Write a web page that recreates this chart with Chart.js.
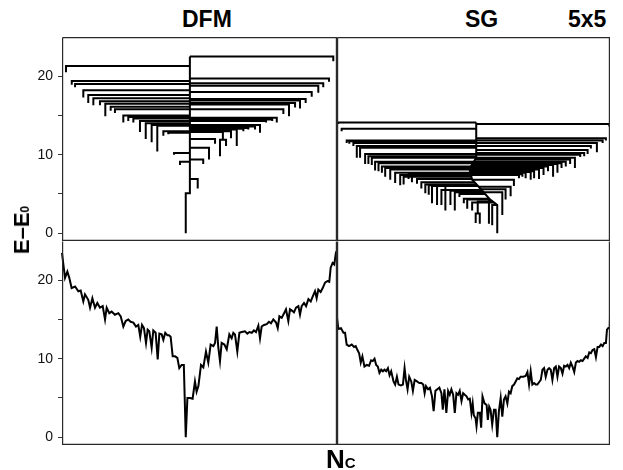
<!DOCTYPE html>
<html><head><meta charset="utf-8">
<script src="https://cdn.jsdelivr.net/npm/chart.js@4.4.1/dist/chart.umd.min.js"></script>
<style>
html,body{margin:0;padding:0;background:#fff;width:623px;height:470px;overflow:hidden;font-family:'Liberation Sans',Arial,sans-serif}
canvas{position:absolute}
.t{position:absolute;font-weight:bold;line-height:1;white-space:nowrap;color:#000}
</style></head><body>
<canvas id="tl" width="337" height="204" style="left:0;top:37px"></canvas>
<canvas id="tr" width="273" height="204" style="left:337px;top:37px"></canvas>
<canvas id="bl" width="337" height="204" style="left:0;top:241px"></canvas>
<canvas id="br" width="273" height="204" style="left:337px;top:241px"></canvas>
<div class="t" style="left:182px;top:8px;font-size:23px">DFM</div>
<div class="t" style="left:465px;top:8px;font-size:23px">SG</div>
<div class="t" style="left:568px;top:8px;font-size:23px">5x5</div>
<div class="t" style="left:22px;top:230px;font-size:22px;transform:translate(-50%,-50%) rotate(-90deg)">E–E<span style="font-size:12px">0</span></div>
<div class="t" style="left:326px;top:446px;font-size:26px">N<span style="font-size:15px">C</span></div>
<script>
// ---------- axis ----------
const yRange = [-1, 25];
const yTicks = [0, 5, 10, 15, 20];
const yLabelled = [0, 10, 20];
const ncRange = [0, 200];

// ---------- DFM: energy of minima vs N_c ----------
const dfmNc = [0,1,2.2,3.9,5.3,7,9.5,11.9,13.6,15.5,16.7,19.1,20.4,22.1,24,25.7,27.6,29.6,31.3,32.5,34.4,36.1,38.5,41,42.7,44.6,46.3,48.2,49.9,51.9,53.8,55.5,56.9,58.2,59.6,61.1,62.3,63.5,65.2,66.4,68.1,69.6,70.8,72.5,73.7,75.1,76.6,77.8,79,80.5,82.2,83.9,85.3,87,88.6,90,91.2,93.1,95,96.7,97.9,99.2,101.1,102.8,104.7,106.4,108.1,110.1,111.3,112.5,113.7,114.9,116.1,118.1,119.8,121.7,123.4,124.6,125.8,127.5,129,130.7,133.1,134.8,136.3,138,139.6,141.1,142.8,144,145.2,146.9,148.9,150.5,152,153.7,155.7,156.9,158.1,159.8,161.5,162.9,164.6,165.8,167.5,168.7,170.2,171.9,173.1,174.3,176,177.5,179.2,180.9,182.3,184,185.2,186.4,188.1,189.6,191.3,193,194.4,195.4,196.8,198,199.2,200];
const dfmE = [23.5,22,20.3,21.1,20.3,19,19.2,18.6,18.7,17.3,18.2,17.5,16.5,17.7,16.5,17.1,16.5,16.7,15,16.5,15.8,16,15.6,15.8,15.4,14.1,14.8,15,14.7,14.6,14.1,14.3,12.8,14.3,13.9,12,13.7,13.5,11.4,13.6,13.3,9.9,13.2,13.1,12.4,13.3,13,13,12.8,10.3,10.3,10.1,8.8,9.2,9.2,0,5,5,4.9,7.1,5.8,6.5,9.2,8.9,10.9,9.5,11.8,11.6,12,14.1,11.4,9.7,12,11.8,11.2,13.1,12.6,13.3,13.1,10.9,13.3,13.4,13.5,13.2,13.4,13.3,13.6,13.4,14.2,12.6,14.1,14.3,14.4,14.7,14.5,15,14.6,13.9,15.4,15.2,15.8,16.3,14.8,16.3,16.1,15.9,16.5,16.7,15.6,16.7,17.1,16.7,17.6,17.3,17.9,18.6,17.7,18.8,18.5,19,19.7,19.9,19.8,21.6,22.2,22,23.5,23.8];

// ---------- SG: energy of minima vs N_c ----------
const sgNc = [0,1,2.9,4.7,5.9,7.1,8.8,10.8,12.5,13.7,15,16.2,17.4,18.6,20.1,21.8,23.5,25,26.2,27.5,28.7,29.9,31.1,32.4,33.6,34.8,36,37.3,38.5,39.7,41.4,42.6,43.9,45.1,46.8,48.3,49.5,50.5,51.7,52.9,54.4,55.6,56.9,58.6,60.3,61.8,63.2,64.2,65.2,66.7,68.1,69.6,70.8,72.1,73.5,75,76.5,77.5,78.7,80.1,81.4,82.6,83.8,85.1,86.3,87.5,88.7,89.9,91.2,92.4,93.6,94.9,96.1,97.3,98.5,99.4,100.2,101.5,102.2,103.2,104.7,105.6,106.6,108.1,109.6,110.5,111.5,112.5,113.7,115,116.2,117.4,118.6,119.9,121.1,122.3,123.5,124.8,126,127.2,128.4,129.7,130.9,132.1,133.3,134.5,136.5,138.2,139.5,140.7,141.9,143.1,144.4,145.6,146.8,148,149.3,150.5,151.7,152.9,154.2,155.4,156.6,157.8,159.1,160.3,161.5,162.7,164,165.2,166.4,167.6,168.9,170.1,171.3,172.5,173.8,175,176.2,177.4,178.7,179.9,181.1,182.3,183.6,184.8,186,187.2,188.5,189.7,190.9,192.1,193.4,194.6,195.8,197,197.8,198.8,199.8,200];
const sgE = [15.2,13.8,13.9,13.3,13.3,11.8,11.6,11.8,11.5,11.6,11.1,10.7,9.5,10.3,9,9.2,9.1,9.8,9.7,10,9.2,9,8.2,8.6,8.4,8.6,8.4,8.8,7.9,8.4,7.1,6.7,7.7,6.7,6.6,6.7,8.8,7.3,6.1,7.7,7.1,5.9,7.3,7.1,6.9,6.9,6.7,5.6,6.5,6.1,6.3,5.2,3.3,5.9,6.1,6.3,5.6,3.5,6.1,3.1,5.9,5.4,6.1,5.4,3.1,5.6,5.4,5.9,4.6,5.6,5.4,5.2,4.8,4.9,3.1,4.3,2.8,2.4,1.4,3.1,3.1,1.2,5.2,4.3,4.1,2.2,3.9,3.5,1.6,3.5,3.5,0,3.3,5,2.6,4.8,5.2,4.3,5.8,5.6,6.5,6.7,7.1,7.5,7.4,7.7,7.7,7.8,8.3,6.7,8.4,6.7,6.9,6.7,6.7,7,7.3,8.6,8.8,7.7,8.6,8.8,8.6,7.3,8.8,9,7.7,9,8.8,8.1,9.1,9,9.2,8.8,9.5,9,8.3,9.5,9.7,9.6,9.8,9.7,10,10.3,10.1,10.8,10.7,11.1,11.2,10.2,11.5,11.5,11.8,11.6,12,12,13.7,13.9,13.9,15.2];

// ---------- DFM disconnectivity tree ----------
const dfmTrunkX = [90, 90, 93, 93];
const dfmTrunkE = [0, 5.1, 5.1, 22.5];
const dfmLeafX = [2.9,7.1,9.5,15.5,19.1,22.8,27.6,31.5,35.4,38.5,44.6,48.2,51.9,56.7,60.9,65.2,69.3,73.7,77.3,81.5,85.8,
  197.3,194.2,190,186.4,181.6,177.2,173.1,169.5,165.1,161,156.2,152.9,148.4,144,140.4,135.5,131.9,127.1,122.9,117,114.9,119.3,111.3,106.9,102.7,98.7];
const dfmLeafMin = [20.5,18.9,18.6,17.3,16.6,16.3,16.3,14.9,15.6,15.3,14.1,14.3,14.1,12.9,12,11.6,10.4,12.4,12.6,10,8.7,
  21.9,19.3,18.6,17.9,17.4,16.6,15.9,16,14.9,15.2,14.1,14.3,14.1,12.8,13.2,13.2,13,11.1,12.1,11.9,9.8,11.1,11.4,9.4,8.8,5.7];
const dfmLeafMerge = [21.3,19.4,19,18.2,17.6,17.2,16.8,16.5,16.1,15.8,15,14.8,14.6,14.3,14,13.8,13.7,13,12.8,10.2,9.1,
  22.5,19.7,19.1,18.8,18,17.1,16.9,16.6,16.4,15.8,14.7,14.5,14.3,13.8,13.6,13.4,13.3,13.2,13,12.9,11.9,11.9,12,10.9,9.4,6.9];
const dfmLeafJoin = [null,null,null,null,null,null,null,null,null,null,null,null,null,null,null,null,null,null,null,null,null,
  null,null,null,null,null,null,null,null,null,null,null,null,null,null,null,null,null,null,null,null,117,117,null,null,null,null];

// ---------- SG disconnectivity tree ----------
const sgTrunkX = [117.4, 117.4, 112, 106, 99, 97, 102, 102];
const sgTrunkE = [0, 3.6, 4.3, 5.5, 6.8, 8.2, 9.6, 14.1];
const sgLeafX = [0.9,3.4,7.1,9,12,14.5,16.9,20.6,23,25.5,27.9,30.4,32.9,35.3,39,42.6,46.3,48.8,52.4,54.9,58.6,61.8,64.7,67.2,69.6,73.3,76.5,79.4,83.1,86.3,89.7,92.9,95.4,99,
  103.1,101.6,104.6,
  199.5,197,194.6,190.4,186,183.6,181.1,178.2,174.3,170.8,167.6,164.5,161.5,158.3,154.6,151.3,148,144.4,141.9,138.2,135.8,133.3,129.6,127.2,123.5,121.1,113.7,111.3];
const sgLeafMin = [13.9,13,11.5,11.4,11.1,9.6,9.6,8.8,8.8,8.7,8,7.9,7.7,7.2,6.8,6.4,6.1,6.2,6.9,6.5,6.3,5.7,5.1,4.9,3.8,3.6,3.6,2.9,3.6,2.9,4.6,3.8,3.1,2.9,
  2.5,1.3,1.2,
  13.6,11.8,11.5,10.3,10.8,10.1,9.8,9.7,8.3,8.8,8.5,8.3,7.7,7.2,7.9,7.4,6.9,7,6.8,7,7.2,7,6,4.7,4.3,2.3,1,1.2];
const sgLeafMerge = [14.1,13.3,11.8,11.7,11.5,11.1,10.9,10.1,9.8,9.6,9.1,8.9,8.5,8.3,8.1,7.7,7.4,7.2,7.6,7.2,6.9,6.5,6.2,6.1,6,6,5.5,6,5.4,5.2,5,4.4,4.3,3.9,
  4,2.5,2.5,
  13.9,12.1,11.8,11.5,11.1,10.6,10.2,10,9.6,9.4,9.1,8.9,8.8,8.7,8.5,8.3,8.1,7.9,7.8,7.7,7.5,7.4,6.8,5.9,5.6,5.2,3.6,4.2];
const sgLeafJoin = [null,null,null,null,null,null,null,null,null,null,null,null,null,null,null,null,null,null,null,null,null,null,null,null,null,null,null,null,null,null,null,null,null,null,
  null,103.1,103.1,
  null,null,null,null,null,null,null,null,null,null,null,null,null,null,null,null,null,null,null,null,null,null,null,null,null,null,null,null];

// ---------- helpers ----------
function trunkXAt(tx, te, e) {
  for (let i = 0; i < te.length - 1; i++) {
    if (te[i + 1] > te[i] && e >= te[i] && e <= te[i + 1]) {
      const f = (e - te[i]) / (te[i + 1] - te[i]);
      return tx[i] + f * (tx[i + 1] - tx[i]);
    }
  }
  return tx[tx.length - 1];
}
function treeSegments(lx, lmin, lmerge, ljoin, tx, te) {
  const pts = [];
  for (let i = 0; i < lx.length; i++) {
    const j = ljoin[i] == null ? trunkXAt(tx, te, lmerge[i]) : ljoin[i];
    pts.push({x: lx[i], y: lmin[i]}, {x: lx[i], y: lmerge[i]}, {x: j, y: lmerge[i]}, {x: lx[i], y: null});
  }
  return pts;
}
function zip(xs, ys) { return xs.map((x, i) => ({x, y: ys[i]})); }

function framePlugin(skipTop) {
  return {
    id: 'frame',
    afterDraw(c) {
      const a = c.chartArea, g = c.ctx;
      g.save(); g.strokeStyle = '#2a2a2a'; g.lineWidth = 1.2;
      g.beginPath();
      const l = a.left + 0.6, r = a.right - 0.6, t = a.top + 0.6, b = a.bottom - 0.6;
      g.moveTo(l, t); g.lineTo(l, b); g.lineTo(r, b); g.lineTo(r, t);
      if (!skipTop) g.lineTo(l, t);
      g.stroke();
      g.restore();
    }
  };
}

function makeChart(id, datasets, showY, skipTop) {
  return new Chart(document.getElementById(id), {
    type: 'line',
    data: {datasets},
    options: {
      responsive: false, animation: false, events: [],
      layout: {padding: 0},
      plugins: {legend: {display: false}, tooltip: {enabled: false}},
      elements: {point: {radius: 0}, line: {tension: 0, borderWidth: 2, borderColor: '#000'}},
      scales: {
        x: {type: 'linear', min: ncRange[0], max: ncRange[1], display: false},
        y: {
          type: 'linear', min: yRange[0], max: yRange[1], display: showY,
          afterBuildTicks(s) { s.ticks = yTicks.map(v => ({value: v})); },
          afterFit(s) { s.width = showY ? 62 : 0; s.paddingTop = 0; s.paddingBottom = 0; },
          border: {display: false},
          grid: {drawOnChartArea: false, drawTicks: true, tickLength: 4, color: '#333', lineWidth: 1},
          ticks: {
            padding: 5, color: '#111',
            font: {family: "'Liberation Sans', Arial, sans-serif", size: 14},
            callback: v => yLabelled.includes(v) ? String(v) : ''
          }
        }
      }
    },
    plugins: [framePlugin(skipTop)]
  });
}
function lineDs(data) {
  return {data, borderColor: '#000', borderWidth: 2, pointRadius: 0, spanGaps: false, fill: false, clip: 3};
}

makeChart('tl', [
  lineDs(treeSegments(dfmLeafX, dfmLeafMin, dfmLeafMerge, dfmLeafJoin, dfmTrunkX, dfmTrunkE)),
  lineDs(zip(dfmTrunkX, dfmTrunkE))
], true, false);
makeChart('tr', [
  lineDs(treeSegments(sgLeafX, sgLeafMin, sgLeafMerge, sgLeafJoin, sgTrunkX, sgTrunkE)),
  lineDs(zip(sgTrunkX, sgTrunkE))
], false, false);
makeChart('bl', [lineDs(zip(dfmNc, dfmE))], true, true);
makeChart('br', [lineDs(zip(sgNc, sgE))], false, true);
</script>
</body></html>
